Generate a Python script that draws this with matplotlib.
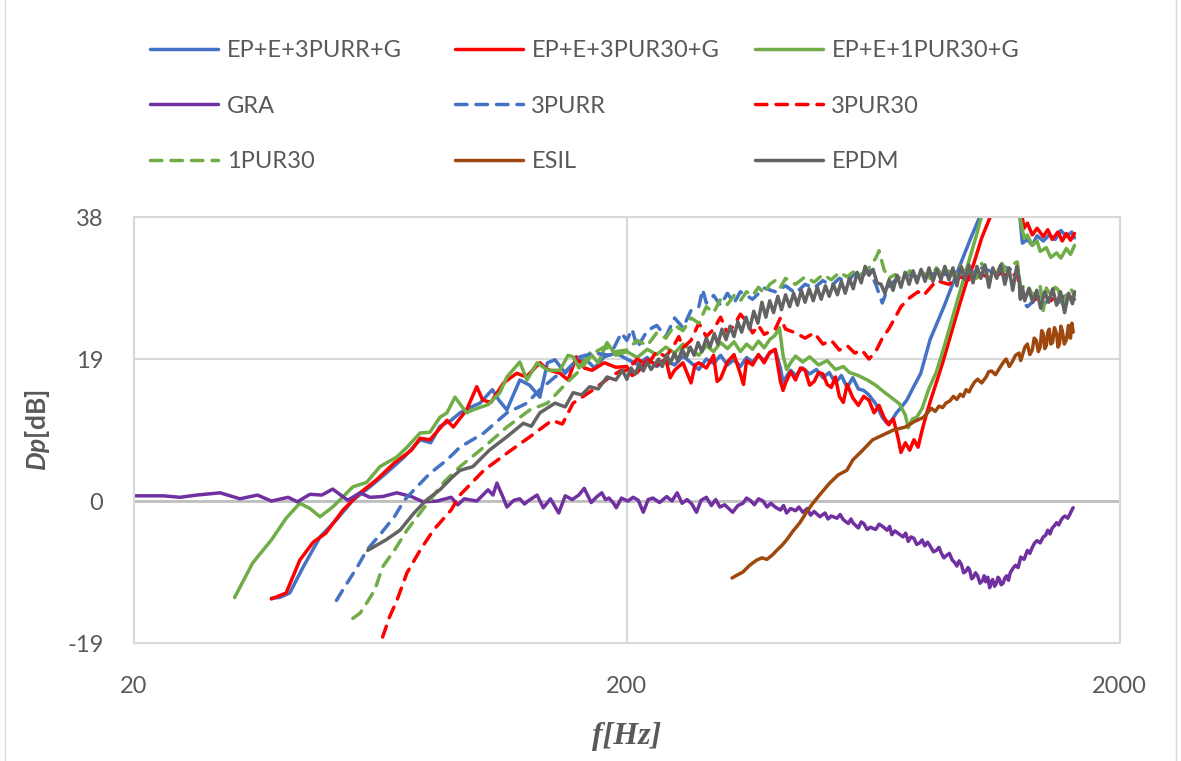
import numpy as np
import matplotlib
matplotlib.use("Agg")
import matplotlib.pyplot as plt

# ---- measured curves: (frequency [Hz], Dp [dB]) ----
ep_e_3purr_g = [
    (38.0, -13.0), (39.5, -12.9), (41.4, -12.3), (44.1, -8.8), (47.7, -4.8), (51.5, -2.5), (55.6, 0.1),
    (60.2, 1.9), (64.9, 3.7), (70.7, 5.9), (76.1, 8.2), (80.0, 7.8), (83.5, 10.0), (88.0, 10.8), (91.7, 11.8),
    (96.0, 12.5), (100.7, 13.1), (106.7, 14.9), (110.0, 13.5), (114.2, 12.2), (121.3, 16.2), (127.0, 15.5),
    (133.2, 13.9), (138.0, 18.5), (143.0, 18.9), (150.0, 17.1), (157.0, 18.6), (165.0, 19.0), (172.0, 17.8),
    (180.0, 19.3), (190.0, 19.8), (200.0, 19.0),
    (210, 18.3), (220, 19.2), (230, 18.0), (240, 18.8), (250, 18.2), (260, 19.4), (270, 18.5), (280, 17.6),
    (290, 19.0), (300, 18.4), (310, 19.5), (320, 18.2), (330, 18.9), (340, 18.0), (350, 19.2), (360, 18.6),
    (370, 19.5), (380, 18.8), (390, 19.8), (400, 20.2), (410, 17.8), (415, 15.9), (420, 16.5), (430, 17.5),
    (440, 16.8), (455, 17.8), (470, 17.0), (485, 17.6), (500, 16.5), (515, 17.2), (530, 15.8), (545, 16.8),
    (560, 15.2), (575, 16.5), (590, 15.0), (605, 14.8), (620, 14.2), (640, 13.0), (660, 11.2), (675, 10.4),
    (690, 10.8), (705, 11.8), (720, 12.5), (740, 13.5), (760, 15.0), (790, 17.1), (825, 21.6), (880, 26.0),
    (935, 30.5), (995, 35.0), (1040, 38.0), (1070, 40.0), (1150, 42.0), (1230, 40.0), (1255, 38.0),
    (1270, 34.5), (1300, 35.0), (1330, 34.2), (1360, 35.5), (1400, 34.8), (1440, 35.6), (1480, 35.0),
    (1520, 36.2), (1560, 35.4), (1600, 36.0), (1620, 35.2),
]

ep_e_3pur30_g = [
    (38.0, -13.1), (40.7, -12.3), (43.4, -7.9), (46.2, -5.5), (49.0, -4.3), (53.1, -1.2), (57.5, 1.1),
    (62.0, 2.8), (67.5, 5.1), (73.1, 6.8), (76.1, 8.4), (79.7, 8.2), (86.3, 10.8), (88.9, 9.9), (94.6, 12.2),
    (99.2, 15.3), (102, 13.5), (106, 13.2), (112.4, 15.8), (119.6, 17.1), (125, 16.6), (133.2, 18.5),
    (138, 17.6), (146.3, 17.1), (152, 16.2), (158, 19.3), (164, 17.8), (170, 17.5), (180, 18.5), (190, 17.9),
    (200, 18.0),
    (205, 16.8), (210, 17.2), (220, 18.9), (230, 18.2), (240, 19.0), (245, 16.5), (250, 17.5), (260, 18.5),
    (270, 15.8), (275, 18.2), (280, 18.5), (290, 17.8), (300, 19.5), (305, 16.0), (310, 16.4), (320, 18.6),
    (330, 19.6), (340, 17.0), (345, 15.6), (350, 18.8), (360, 18.2), (370, 19.6), (380, 18.5), (390, 19.9),
    (400, 20.3), (410, 16.0), (415, 14.8), (420, 15.8), (430, 17.3), (440, 16.2), (450, 17.8), (460, 17.5),
    (470, 15.5), (480, 16.0), (490, 17.2), (500, 17.0), (510, 15.6), (520, 15.2), (530, 16.6), (540, 14.0),
    (550, 13.2), (560, 15.6), (575, 13.8), (590, 12.8), (605, 14.0), (620, 13.5), (635, 11.8), (650, 12.8),
    (665, 11.2), (680, 10.2), (695, 11.0), (710, 8.5), (720, 6.5), (735, 7.8), (750, 6.8), (765, 8.2),
    (780, 7.2), (795, 9.5), (810, 11.5), (830, 13.8), (850, 15.9), (875, 18.5), (900, 21.3), (925, 24.0),
    (950, 26.6), (980, 29.5), (1010, 31.6), (1050, 35.2), (1100, 38.5), (1150, 41.0), (1230, 41.0),
    (1265, 38.5), (1280, 36.5), (1300, 37.2), (1330, 35.6), (1360, 36.5), (1400, 35.4), (1430, 36.3),
    (1460, 35.0), (1500, 36.0), (1530, 34.8), (1560, 35.8), (1590, 34.9), (1620, 35.8),
]

ep_e_1pur30_g = [
    (32.0, -12.9), (34.8, -8.3), (38.0, -5.2), (40.7, -2.3), (43.4, -0.3), (45.5, -1.0), (47.7, -2.1),
    (50.6, -0.8), (55.6, 1.9), (59.3, 2.5), (63.1, 4.6), (68.3, 5.9), (71.6, 7.2), (76.1, 9.1), (79.7, 9.2),
    (83.5, 11.2), (86.3, 11.8), (89.6, 13.9), (94.6, 11.8), (97.4, 12.2), (104.6, 12.9), (110.5, 14.5),
    (114.2, 16.6), (121.3, 18.6), (125.4, 16.2), (131.5, 18.5), (138.1, 17.5), (146.3, 17.5), (152, 19.5),
    (155.6, 19.3), (160, 17.8), (168.2, 19.8), (175, 18.5), (182.3, 21.2), (190, 19.5), (200, 20.0),
    (210, 19.2), (220, 20.3), (230, 19.6), (240, 20.6), (250, 19.8), (260, 21.0), (270, 20.2), (280, 19.5),
    (290, 20.8), (300, 20.0), (310, 21.2), (320, 20.4), (330, 21.3), (340, 20.0), (350, 21.0), (360, 20.3),
    (370, 21.4), (380, 20.5), (390, 21.6), (400, 22.2), (408, 23.2), (415, 19.5), (422, 17.6), (430, 18.5),
    (440, 19.4), (455, 18.6), (470, 19.3), (490, 18.2), (510, 18.8), (530, 17.6), (550, 18.0), (566, 17.2),
    (590, 16.8), (615, 16.2), (640, 15.5), (665, 14.6), (690, 13.8), (715, 13.0), (735, 11.5), (745, 9.8),
    (760, 11.0), (775, 11.2), (795, 12.4), (820, 15.0), (850, 17.3), (875, 20.0), (895, 22.2), (935, 26.6),
    (980, 31.2), (1025, 35.6), (1050, 38.2), (1100, 41.5), (1220, 41.5), (1254, 38.2), (1280, 35.2),
    (1300, 35.6), (1330, 34.2), (1360, 34.8), (1380, 33.4), (1420, 33.9), (1450, 32.6), (1490, 33.2),
    (1520, 32.5), (1560, 33.8), (1590, 33.0), (1620, 34.2),
]

gra = [
    (20, 0.7), (22.9, 0.7), (24.8, 0.5), (26.8, 0.8), (29.9, 1.1), (32.8, 0.3), (35.6, 0.8), (38.0, 0.0),
    (41.1, 0.5), (42.9, -0.1), (45.5, 0.9), (48.1, 0.8), (50.6, 1.6), (54.3, 0.1), (57.5, 1.1), (60.2, 0.5),
    (63.9, 0.6), (68.3, 1.1), (73.1, 0.6), (77.2, -0.1), (82.4, 0.0), (88.0, 0.5), (90.8, -0.5), (93.6, 0.3),
    (99.2, 0.0), (104.6, 1.5), (107, 0.8), (109, 2.4), (112, 0.6), (114.2, -0.8), (118, 0.1), (121.3, 0.3),
    (124, -0.4), (126, 0.0), (131.5, 0.8), (135.4, -0.9), (140, 0.3), (145.5, -1.6), (150, 0.7), (155, 0.2),
    (159.8, 0.8), (163.9, 1.7), (169.3, -0.2), (174, 0.6), (177.9, 1.1), (181, 0.2), (184, 0.4), (188, -0.3),
    (190.4, -0.9), (195, 0.4), (201, 0.0),
    (206, 0.5), (211, 0.1), (216, -1.5), (221, 0.2), (226, 0.4), (233, -0.2), (241, 0.6), (247, 0.0),
    (253, 1.1), (259, -0.3), (265, 0.2), (271, -0.4), (277, -1.5), (283, 0.1), (290, 0.5), (297, -0.6),
    (303, 0.2), (309, -0.8), (316, -0.5), (322, -1.0), (328, -1.5), (336, -0.6), (344, -0.3), (350, 0.4),
    (356, 0.1), (363, -0.5), (370, 0.3), (378, 0.0), (385, -0.8), (392, -0.3), (400, -0.8), (410, -1.2),
    (416, -0.6), (422, -1.6), (430, -1.0), (440, -1.3), (447, -0.8), (455, -1.5), (465, -1.0), (472, -1.9),
    (480, -1.4), (493, -2.1), (505, -1.6), (512, -2.4), (520, -2.0), (534, -2.3), (542, -1.8), (550, -2.5),
    (563, -3.0), (570, -2.4), (575, -2.9), (590, -3.6), (598, -2.8), (605, -3.0), (615, -3.8), (624, -3.5),
    (640, -3.8), (650, -3.1), (658, -3.3), (675, -3.9), (683, -3.4), (690, -4.5), (700, -4.0), (710, -4.3),
    (727, -4.8), (736, -4.3), (745, -5.4), (755, -4.8), (765, -5.0), (775, -5.8), (786, -5.6), (795, -5.2),
    (805, -6.0), (815, -5.5), (825, -6.0), (838, -6.8), (850, -6.6), (860, -6.2), (870, -7.0), (880, -7.6),
    (890, -7.3), (903, -7.0), (915, -7.9), (925, -8.2), (935, -8.7), (945, -8.0), (955, -8.5), (965, -9.6),
    (975, -9.4), (985, -8.9), (992, -9.2), (1002, -10.4), (1010, -10.2), (1020, -9.6), (1030, -10.0),
    (1042, -11.0), (1055, -10.6), (1062, -10.0), (1070, -10.8), (1080, -10.2), (1090, -11.6), (1098, -10.8),
    (1105, -10.5), (1115, -11.4), (1125, -11.0), (1133, -10.2), (1140, -10.4), (1150, -11.2), (1160, -11.0),
    (1170, -10.3), (1180, -10.0), (1190, -10.6), (1200, -9.6), (1215, -9.0), (1230, -8.6), (1245, -8.9),
    (1260, -7.5), (1280, -7.8), (1300, -6.6), (1315, -7.0), (1330, -6.2), (1345, -5.6), (1360, -5.3),
    (1380, -5.6), (1400, -4.8), (1415, -4.6), (1430, -3.9), (1445, -4.4), (1460, -3.6), (1475, -3.3),
    (1490, -2.9), (1505, -3.2), (1520, -2.6), (1535, -2.2), (1550, -2.0), (1570, -2.3), (1590, -1.6),
    (1600, -1.2), (1610, -0.9),
]

pur3rr = [
    (51.5, -13.3), (53.5, -11.5), (56.8, -8.8), (59.3, -6.6), (63.1, -4.5), (67.5, -2.1), (70.7, 0.1),
    (75.0, 1.9), (79.7, 3.7), (86.3, 5.5), (91.7, 7.2), (102.5, 9.1), (114.2, 11.8), (125.4, 13.1),
    (133.2, 14.9), (143, 16.6), (151, 17.5), (160.6, 19.3), (172, 19.8), (185, 19.5), (195, 22.5), (200, 21.5),
    (205, 23.0), (210, 20.5), (220, 22.8), (230, 23.5), (240, 22.0), (250, 24.5), (260, 23.2), (270, 25.5),
    (280, 26.0), (285, 28.3), (290, 26.5), (300, 27.5), (310, 26.2), (320, 27.8), (330, 26.5), (340, 28.0),
    (360, 27.0), (380, 28.5), (400, 28.0), (420, 28.8), (440, 27.8), (460, 29.0), (480, 28.5), (500, 29.5),
    (520, 28.8), (540, 29.8), (560, 29.2), (580, 30.5), (600, 30.0), (620, 31.0), (640, 29.0), (660, 26.5),
    (680, 28.8), (700, 29.5), (750, 30.3), (800, 29.8), (850, 30.6), (900, 30.2), (950, 31.0), (1000, 30.5),
    (1050, 31.2), (1100, 30.7), (1150, 31.5), (1200, 31.0), (1240, 31.5), (1260, 27.0), (1300, 26.0),
    (1350, 27.0), (1400, 26.2), (1450, 27.3), (1500, 26.5), (1550, 27.5), (1600, 26.8), (1620, 27.0),
]

pur3_30 = [
    (63.9, -18.2), (66.0, -15.5), (68.3, -13.3), (71.6, -9.6), (76.1, -6.6), (81.0, -3.9), (88.0, -1.2),
    (91.7, 0.8), (102.5, 4.1), (114.2, 6.4), (127.2, 8.6), (141, 10.8), (148, 10.3), (155.6, 13.1),
    (171, 14.9), (185, 16.6), (195, 17.5), (200, 17.5),
    (210, 19.0), (220, 18.2), (230, 20.0), (240, 19.3), (250, 21.0), (255, 22.0), (260, 20.5), (270, 21.5),
    (280, 23.8), (290, 22.0), (300, 23.0), (310, 24.6), (320, 22.5), (330, 23.5), (340, 25.0), (350, 24.0),
    (360, 22.5), (370, 23.5), (380, 22.3), (400, 23.0), (410, 24.5), (420, 23.0), (440, 22.5), (460, 21.8),
    (480, 22.5), (500, 21.0), (520, 21.5), (540, 20.2), (560, 20.8), (580, 19.8), (600, 20.2), (620, 19.0),
    (640, 20.0), (660, 21.8), (680, 23.0), (700, 24.5), (720, 26.0), (750, 27.2), (780, 28.0), (800, 27.5),
    (850, 29.5), (900, 29.0), (950, 30.0), (1000, 29.5), (1050, 30.3), (1100, 29.8), (1150, 30.5),
    (1200, 30.0), (1240, 30.5), (1260, 27.2), (1300, 28.0), (1350, 27.0), (1400, 27.8), (1450, 26.8),
    (1500, 27.6), (1550, 26.9), (1600, 27.5), (1620, 27.0),
]

pur1_30 = [
    (55.6, -15.7), (57.5, -15.0), (59.5, -13.5), (61.6, -11.9), (63.9, -8.8), (67.5, -6.6), (71.6, -3.9),
    (76.1, -1.6), (79.7, 0.1), (85.0, 2.5), (91.7, 4.6), (102.5, 7.2), (114.2, 9.9), (127.2, 12.2),
    (138, 13.1), (151, 15.8), (160.6, 17.5), (171, 19.8), (180, 20.6), (190, 20.0), (200, 20.2),
    (210, 21.5), (220, 20.8), (230, 22.5), (240, 21.8), (250, 23.5), (260, 22.8), (270, 24.5), (280, 23.8),
    (290, 26.0), (300, 25.2), (310, 27.0), (320, 26.3), (330, 27.5), (340, 26.8), (350, 28.0), (360, 27.5),
    (370, 28.6), (380, 27.8), (390, 29.0), (400, 29.5), (410, 28.6), (420, 29.8), (440, 29.0), (460, 30.0),
    (480, 29.3), (500, 30.3), (520, 29.6), (540, 30.6), (560, 30.0), (580, 30.8), (600, 30.3), (620, 31.2),
    (640, 32.5), (650, 33.5), (665, 31.0), (680, 29.8), (700, 30.3), (725, 29.6), (750, 30.8), (775, 30.0),
    (800, 30.5), (825, 29.8), (850, 31.2), (875, 30.2), (900, 30.8), (925, 30.0), (950, 31.5), (975, 30.4),
    (1000, 30.8), (1025, 29.8), (1050, 31.8), (1075, 30.5), (1100, 31.0), (1125, 30.2), (1150, 32.0),
    (1175, 30.8), (1200, 31.5), (1240, 32.0), (1260, 28.5), (1300, 29.0), (1330, 27.6), (1350, 27.8),
    (1380, 28.8), (1400, 25.5), (1420, 28.5), (1450, 27.5), (1480, 28.6), (1500, 28.3), (1530, 26.4),
    (1550, 27.0), (1580, 28.4), (1600, 28.2), (1620, 27.5),
]

esil = [
    (327, -10.3), (335, -9.9), (344, -9.5), (355, -8.6), (367, -7.9), (376, -7.6), (385, -7.8), (395, -7.2),
    (403, -6.6), (412, -6.0), (422, -5.2), (435, -4.0), (449, -2.9), (463, -1.5), (477, -0.3), (495, 1.0),
    (516, 2.4), (537, 3.5), (559, 4.1), (575, 5.5), (600, 6.7), (631, 8.2), (660, 8.8), (695, 9.5),
    (735, 9.9), (765, 10.6), (800, 11.2), (830, 12.4), (845, 12.0), (860, 12.7), (875, 12.5), (888, 13.1),
    (905, 13.4), (920, 14.0), (935, 13.6), (950, 14.3), (963, 14.0), (976, 14.9), (990, 14.6), (1000, 15.2),
    (1015, 15.9), (1030, 16.3), (1050, 15.8), (1072, 16.6), (1085, 17.3), (1100, 17.4), (1120, 16.9),
    (1142, 17.8), (1160, 18.5), (1177, 19.0), (1195, 18.0), (1210, 18.6), (1230, 19.5), (1250, 19.8),
    (1260, 18.8), (1270, 19.5), (1285, 20.6), (1300, 21.0), (1315, 19.6), (1330, 20.2), (1342, 21.8),
    (1355, 21.5), (1368, 20.0), (1380, 20.6), (1390, 22.8), (1400, 22.4), (1410, 20.4), (1420, 20.8),
    (1430, 22.6), (1440, 23.0), (1450, 21.0), (1462, 21.2), (1475, 23.2), (1490, 22.4), (1500, 20.6),
    (1510, 21.0), (1520, 23.4), (1530, 22.8), (1545, 21.0), (1560, 21.6), (1575, 23.5), (1585, 22.0),
    (1590, 21.8), (1600, 23.8), (1610, 22.6),
]

epdm = [
    (59.6, -6.6), (64.9, -5.2), (69.3, -3.9), (74.0, -1.6), (78.3, 0.1), (83.5, 1.5), (88.5, 3.2),
    (91.7, 4.1), (97.4, 4.6), (105.2, 6.8), (114.2, 8.6), (123.3, 10.4), (128, 10.0), (133.2, 11.8),
    (143, 13.1), (150, 12.6), (155.6, 14.5), (162, 14.2), (168.2, 15.3), (175, 15.0), (182.3, 16.6),
    (190, 16.2), (196, 17.5), (200, 16.3),
    (204, 17.8), (208, 17.0), (212, 18.3), (216, 17.4), (220, 18.6), (224, 17.6), (232, 19.0), (236, 18.0),
    (241, 19.6), (245, 18.4), (250, 19.8), (254, 18.7), (259, 20.3), (264, 19.2), (269, 20.6), (274, 19.5),
    (279, 21.2), (284, 20.0), (290, 21.8), (295, 20.6), (301, 22.4), (306, 21.0), (312, 23.0), (318, 21.6),
    (324, 23.4), (330, 22.0), (336, 24.0), (342, 22.6), (349, 24.6), (355, 23.0), (362, 25.4), (369, 23.8),
    (376, 26.6), (383, 24.6), (390, 26.8), (397, 25.2), (405, 27.4), (412, 25.6), (420, 27.6), (428, 26.0),
    (436, 27.8), (444, 26.2), (452, 28.2), (460, 26.6), (469, 28.4), (478, 26.8), (487, 28.6), (496, 27.0),
    (506, 28.8), (515, 27.4), (525, 29.0), (535, 27.6), (545, 29.4), (555, 27.8), (566, 29.8), (576, 28.4),
    (587, 30.6), (598, 29.2), (609, 31.4), (620, 30.2), (632, 31.0), (644, 29.2), (656, 29.0), (668, 27.8),
    (681, 29.6), (694, 28.2), (707, 30.2), (720, 28.6), (734, 30.6), (748, 29.0), (762, 30.8), (776, 29.2),
    (791, 31.0), (806, 29.4), (821, 31.2), (836, 29.4), (852, 31.0), (868, 29.6), (884, 31.4), (901, 29.6),
    (918, 31.2), (935, 28.8), (953, 31.4), (971, 29.6), (989, 31.6), (1008, 29.2), (1027, 31.4), (1046, 29.8),
    (1066, 31.6), (1086, 28.6), (1106, 31.2), (1127, 29.8), (1148, 31.6), (1170, 29.0), (1192, 31.2),
    (1214, 28.2), (1237, 31.4), (1250, 30.0), (1258, 27.0), (1270, 28.6), (1284, 26.8), (1308, 28.4),
    (1333, 26.6), (1358, 28.2), (1383, 25.8), (1409, 28.0), (1436, 26.6), (1463, 28.4), (1490, 26.2),
    (1518, 28.0), (1547, 25.2), (1576, 27.8), (1605, 26.4), (1620, 28.0),
]

series_labels = ["EP+E+3PURR+G", "EP+E+3PUR30+G", "EP+E+1PUR30+G",
                 "GRA", "3PURR", "3PUR30",
                 "1PUR30", "ESIL", "EPDM"]
series_data = [ep_e_3purr_g, ep_e_3pur30_g, ep_e_1pur30_g,
               gra, pur3rr, pur3_30,
               pur1_30, esil, epdm]
series_colors = ["#4472C4", "#FF0000", "#70AD47",
                 "#7030A0", "#4472C4", "#FF0000",
                 "#70AD47", "#9E480E", "#636363"]
series_dashed = [False, False, False, False, True, True, True, False, False]

x_ticks = [20, 200, 2000]
y_ticks = [-19, 0, 19, 38]

TEXT = "#595959"
GRID = "#D9D9D9"

plt.rcParams["font.family"] = ["Lato", "DejaVu Sans"]
plt.rcParams["axes.unicode_minus"] = False
plt.rcParams["mathtext.fontset"] = "custom"
plt.rcParams["mathtext.bfit"] = "Lato:bold:italic"
plt.rcParams["mathtext.rm"] = "Lato:bold"

fig = plt.figure(figsize=(11.81, 7.61), dpi=100)
fig.patch.set_facecolor("white")
ax = fig.add_axes([0.1135, 0.155, 0.8345, 0.5598])

handles = []
for lab, data, col, dashed in zip(series_labels, series_data, series_colors, series_dashed):
    arr = np.array(data, dtype=float)
    kw = dict(color=col, lw=2.5, label=lab, solid_joinstyle="round", solid_capstyle="round")
    if dashed:
        kw.update(linestyle=(0, (3.3, 2.6)), dash_capstyle="round")
    h, = ax.plot(arr[:, 0], arr[:, 1], **kw)
    handles.append(h)

ax.set_xscale("log")
ax.set_xlim(20, 2000)
ax.set_ylim(-19, 38)
ax.set_xticks(x_ticks)
ax.set_xticklabels([str(t) for t in x_ticks])
ax.xaxis.set_minor_locator(matplotlib.ticker.NullLocator())
ax.set_yticks(y_ticks)
ax.tick_params(axis="both", length=0, labelsize=17, labelcolor=TEXT)
ax.tick_params(axis="y", pad=22)
ax.tick_params(axis="x", pad=24)
ax.grid(True, color=GRID, lw=1.5, zorder=0)
ax.set_axisbelow(True)
ax.axhline(0, color="#BFBFBF", lw=2.0, zorder=1)
for sp in ax.spines.values():
    sp.set_color(GRID)
    sp.set_linewidth(1.5)

ax.set_ylabel(r"$\mathbfit{Dp}$[dB]", fontsize=19, color=TEXT, fontweight="bold")
ax.yaxis.set_label_coords(-0.083, 0.5)
ax.set_xlabel("f[Hz]", fontsize=23, color=TEXT, fontweight="bold", style="italic",
              family=["Liberation Serif", "DejaVu Serif"], labelpad=18)

# legend laid out as three columns of three rows
col_x = [0.127, 0.385, 0.639]
for j in range(3):
    idx = [j, j + 3, j + 6]
    fig.legend([handles[i] for i in idx], [series_labels[i] for i in idx],
               loc="upper left", bbox_to_anchor=(col_x[j], 0.947), frameon=False,
               fontsize=17, labelcolor=TEXT, handlelength=2.9, handletextpad=0.35,
               labelspacing=1.45, borderpad=0, borderaxespad=0)

fig.add_artist(plt.Rectangle((0.004, -0.01), 0.992, 1.05, transform=fig.transFigure,
                             fill=False, edgecolor=GRID, lw=1.0))

fig.savefig("out.png", dpi=100, facecolor="white")
